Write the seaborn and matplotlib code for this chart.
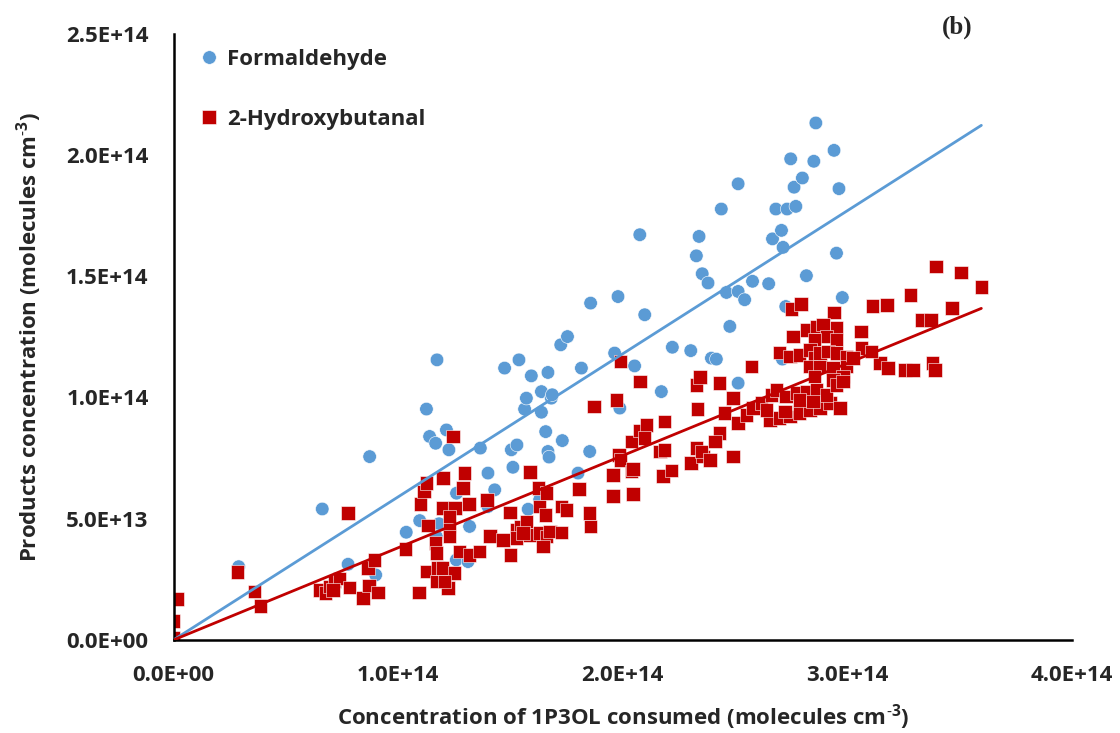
import numpy as np
import pandas as pd
import matplotlib
matplotlib.use("Agg")
import matplotlib.pyplot as plt
import seaborn as sns

# values, in units of 1E14 molecules cm-3
form_x = [0.000, 0.290, 0.662, 0.777, 0.873, 0.900, 1.036, 1.096, 1.126, 1.140,
          1.167, 1.173, 1.182, 1.170, 1.215, 1.226, 1.260, 1.259, 1.311, 1.318,
          1.366, 1.400, 1.400, 1.430, 1.474, 1.504, 1.511, 1.529, 1.538, 1.563,
          1.571, 1.579, 1.593, 1.630, 1.638, 1.638, 1.657, 1.667, 1.667, 1.672,
          1.682, 1.686, 1.724, 1.731, 1.754, 1.801, 1.816, 1.853, 1.857, 1.964,
          1.979, 1.987, 2.053, 2.076, 2.098, 2.172, 2.221, 2.303, 2.328, 2.340,
          2.354, 2.380, 2.395, 2.417, 2.439, 2.462, 2.477, 2.514, 2.514, 2.514,
          2.543, 2.578, 2.650, 2.667, 2.682, 2.707, 2.711, 2.714, 2.726, 2.732,
          2.748, 2.763, 2.771, 2.800, 2.818, 2.851, 2.860, 2.941, 2.952, 2.963,
          2.978]
form_y = [0.000, 0.302, 0.540, 0.312, 0.756, 0.268, 0.444, 0.492, 0.952, 0.839,
          0.811, 1.155, 0.479, 0.426, 0.866, 0.784, 0.605, 0.330, 0.323, 0.468,
          0.791, 0.688, 0.550, 0.619, 1.121, 0.784, 0.712, 0.804, 1.155, 0.952,
          0.997, 0.539, 1.089, 0.578, 1.024, 0.939, 0.859, 0.777, 1.103, 0.754,
          0.997, 1.011, 1.217, 0.822, 1.251, 0.688, 1.121, 0.777, 1.389, 1.183,
          1.416, 0.956, 1.130, 1.671, 1.341, 1.024, 1.207, 1.193, 1.584, 1.664,
          1.510, 1.472, 1.162, 1.158, 1.777, 1.433, 1.293, 1.881, 1.437, 1.059,
          1.403, 1.479, 1.469, 1.654, 1.777, 1.689, 1.158, 1.619, 1.375, 1.777,
          1.984, 1.867, 1.788, 1.905, 1.502, 1.974, 2.132, 2.019, 1.595, 1.861,
          1.412]

hyd_x = [0.015, 0.000, 0.000, 0.284, 0.361, 0.388, 0.650, 0.676, 0.695, 0.717,
         0.739, 0.710, 0.777, 0.784, 0.843, 0.869, 0.910, 0.866, 0.895, 1.032,
         1.093, 1.126, 1.099, 1.115, 1.126, 1.133, 1.167, 1.170, 1.177, 1.170,
         1.200, 1.244, 1.197, 1.229, 1.197, 1.222, 1.250, 1.296, 1.289, 1.315,
         1.252, 1.229, 1.229, 1.207, 1.274, 1.318, 1.363, 1.396, 1.408, 1.467,
         1.501, 1.497, 1.586, 1.526, 1.548, 1.571, 1.586, 1.526, 1.556, 1.624,
         1.660, 1.630, 1.657, 1.630, 1.660, 1.645, 1.675, 1.727, 1.727, 1.749,
         1.806, 1.853, 1.856, 1.872, 1.972, 2.076, 1.957, 1.957, 1.984, 1.990,
         2.039, 2.046, 2.046, 2.039, 2.076, 2.105, 2.098, 2.187, 2.165, 2.187,
         2.180, 2.217, 2.328, 2.332, 2.305, 2.328, 2.358, 1.990, 3.396, 3.506,
         3.597, 3.282, 3.466, 3.112, 3.178, 3.330, 3.374, 3.060, 3.379, 3.390,
         3.256, 3.293, 3.145, 3.182, 3.063, 3.108, 2.573, 2.751, 2.795, 2.941,
         2.759, 2.818, 2.862, 2.892, 2.952, 2.907, 2.952, 2.855, 2.699, 2.744,
         2.788, 2.833, 2.855, 2.878, 2.915, 2.952, 2.996, 2.833, 2.878, 2.937,
         2.996, 3.026, 2.981, 2.855, 2.937, 2.491, 2.454, 2.514, 2.551, 2.581,
         2.618, 2.432, 2.410, 2.350, 2.388, 2.491, 2.655, 2.699, 2.744, 2.788,
         2.833, 2.878, 2.922, 2.967, 2.662, 2.684, 2.728, 2.773, 2.818, 2.862,
         2.907, 2.952, 2.981, 2.640, 2.722, 2.848, 2.788, 2.432, 2.343]
hyd_y = [0.168, 0.078, 0.007, 0.279, 0.199, 0.140, 0.206, 0.193, 0.220, 0.241,
         0.254, 0.206, 0.523, 0.217, 0.172, 0.224, 0.195, 0.296, 0.330, 0.374,
         0.195, 0.282, 0.560, 0.612, 0.647, 0.472, 0.399, 0.358, 0.296, 0.241,
         0.667, 0.839, 0.543, 0.468, 0.296, 0.213, 0.275, 0.688, 0.626, 0.561,
         0.543, 0.509, 0.426, 0.241, 0.365, 0.351, 0.365, 0.578, 0.429, 0.413,
         0.351, 0.525, 0.692, 0.454, 0.468, 0.488, 0.433, 0.420, 0.440, 0.626,
         0.605, 0.550, 0.516, 0.440, 0.426, 0.385, 0.447, 0.443, 0.550, 0.536,
         0.622, 0.523, 0.468, 0.963, 0.990, 1.066, 0.681, 0.594, 0.763, 0.743,
         0.694, 0.704, 0.602, 0.818, 0.864, 0.887, 0.832, 0.901, 0.777, 0.784,
         0.677, 0.698, 1.052, 0.952, 0.729, 0.791, 0.756, 1.148, 1.540, 1.515,
         1.455, 1.423, 1.368, 1.378, 1.382, 1.320, 1.320, 1.272, 1.142, 1.114,
         1.114, 1.114, 1.142, 1.121, 1.203, 1.189, 1.128, 1.364, 1.386, 1.351,
         1.251, 1.279, 1.293, 1.300, 1.286, 1.251, 1.238, 1.238, 1.185, 1.169,
         1.176, 1.196, 1.162, 1.183, 1.189, 1.183, 1.169, 1.128, 1.128, 1.121,
         1.128, 1.162, 1.086, 1.086, 1.073, 0.997, 0.935, 0.894, 0.928, 0.956,
         0.976, 0.853, 0.818, 0.777, 0.743, 0.756, 0.908, 0.915, 0.922, 0.935,
         0.949, 0.956, 0.976, 0.956, 1.011, 1.031, 1.004, 1.018, 1.024, 1.031,
         1.011, 1.052, 1.066, 0.949, 0.942, 0.984, 0.990, 1.059, 1.085]

x_ticks = [0, 1e14, 2e14, 3e14, 4e14]
y_ticks = [0, 5e13, 1e14, 1.5e14, 2e14, 2.5e14]
scale = 1e14

blue = "#5B9BD5"
red = "#C00000"

df = pd.concat([
    pd.DataFrame({"x": np.array(form_x) * scale, "y": np.array(form_y) * scale,
                  "product": "Formaldehyde"}),
    pd.DataFrame({"x": np.array(hyd_x) * scale, "y": np.array(hyd_y) * scale,
                  "product": "2-Hydroxybutanal"}),
])

sns.set_style("white")
plt.rcParams['font.family'] = ['Open Sans', 'DejaVu Sans']
plt.rcParams['mathtext.fontset'] = 'custom'
plt.rcParams['mathtext.rm'] = 'Open Sans'
plt.rcParams['mathtext.bf'] = 'Open Sans:bold'

fs = 16

fig = plt.figure(figsize=(11.2, 7.33), dpi=100)
ax = fig.add_axes([0.155, 0.127, 0.802, 0.827])

sns.scatterplot(data=df, x="x", y="y", hue="product", style="product",
                palette={"Formaldehyde": blue, "2-Hydroxybutanal": red},
                markers={"Formaldehyde": "o", "2-Hydroxybutanal": "s"},
                s=95, edgecolor="white", linewidth=0.4, ax=ax, zorder=2)

# linear trendlines forced through the origin
xmax = df["x"].max()
xfit = np.array([0, xmax])
for name, col in [("Formaldehyde", blue), ("2-Hydroxybutanal", red)]:
    d = df[df["product"] == name]
    k = (d["x"] * d["y"]).sum() / (d["x"] ** 2).sum()
    ax.plot(xfit, k * xfit, color=col, lw=2, zorder=3)

ax.set_xlim(0, 4e14)
ax.set_ylim(0, 2.5e14)
ax.set_xticks(x_ticks)
ax.set_yticks(y_ticks)
ax.set_xticklabels([f"{v:.1E}" for v in x_ticks], fontsize=fs, fontweight="bold")
ax.set_yticklabels([f"{v:.1E}" for v in y_ticks], fontsize=fs, fontweight="bold")
ax.tick_params(axis="x", direction="out", length=6, width=1.8, pad=12)
ax.tick_params(axis="y", direction="in", length=6, width=1.8, pad=18)
for s in ["top", "right"]:
    ax.spines[s].set_visible(False)
for s in ["left", "bottom"]:
    ax.spines[s].set_linewidth(1.8)
    ax.spines[s].set_color("black")

sup = r"$^{\mathbf{\text{-}3}}$"
ax.set_xlabel("Concentration of 1P3OL consumed (molecules cm" + sup + ")",
              fontsize=fs, fontweight="bold", labelpad=12)
ax.set_ylabel("Products concentration (molecules cm" + sup + ")",
              fontsize=fs, fontweight="bold", labelpad=16)

leg = ax.legend(loc="upper left", frameon=False, labelspacing=1.75,
                handlelength=1.0, handletextpad=0.3, markerscale=1.0,
                bbox_to_anchor=(0.005, 1.008),
                prop={"weight": "bold", "size": fs})
ax.text(0.872, 1.01, "(b)", transform=ax.transAxes, fontsize=18, fontweight="bold",
        family="Liberation Serif", ha="center", va="center")

plt.savefig("out.png", dpi=100)
